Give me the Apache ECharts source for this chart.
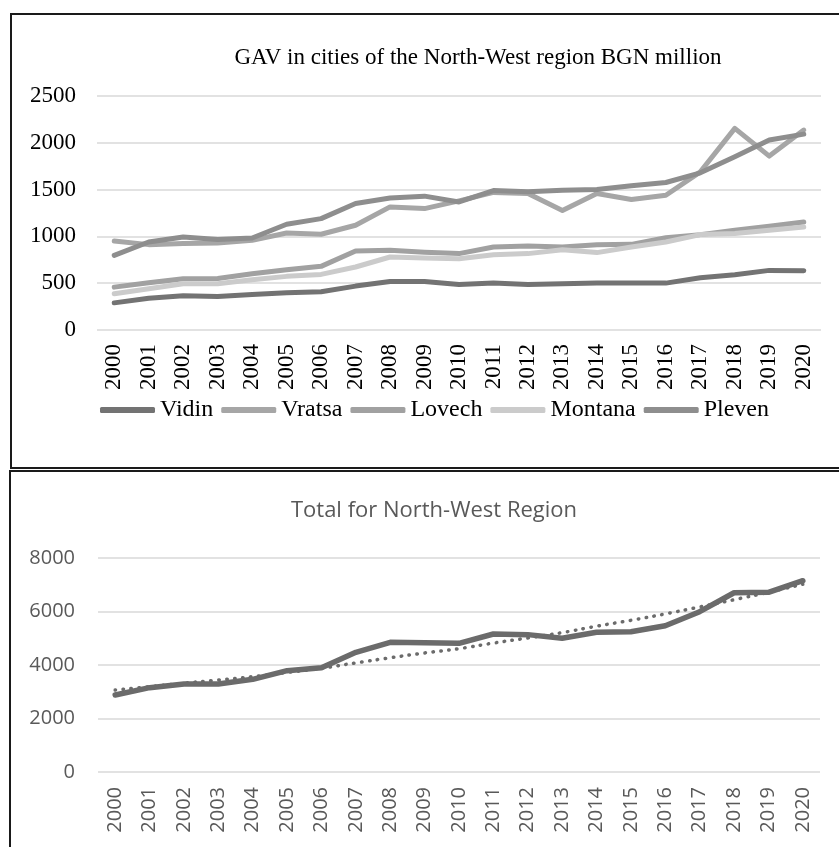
<!DOCTYPE html>
<html>
<head>
<meta charset="utf-8">
<title>GAV North-West region</title>
<script src="https://cdn.jsdelivr.net/npm/echarts@6/dist/echarts.min.js"></script>
<style>
    html, body {
        margin: 0;
        padding: 0;
        background: #fff;
        overflow: hidden;
    }
    .box {
        position: absolute;
        border: 2px solid #1a1a1a;
        border-right: none;
    }
    #chart {
        position: absolute;
        left: 0;
        top: 0;
        width: 839px;
        height: 847px;
    }
</style>
</head>
<body>
<div class="box" style="left: 10px; top: 13px; width: 900px; height: 452px;"></div>
<div class="box" style="left: 9px; top: 470px; width: 900px; height: 500px;"></div>
<div id="chart"></div>

<script>
// values in BGN million
var years = ['2000', '2001', '2002', '2003', '2004', '2005', '2006', '2007', '2008', '2009', '2010',
    '2011', '2012', '2013', '2014', '2015', '2016', '2017', '2018', '2019', '2020'];

var vidin = [290, 340, 366, 359, 380, 398, 409, 469, 519, 519, 487, 501, 487, 494, 501, 501, 501, 559, 591, 637, 634];
var vratsa = [950, 912, 923, 929, 958, 1037, 1023, 1119, 1315, 1297, 1380, 1470, 1458, 1278, 1458, 1394, 1440, 1690, 2154, 1858, 2136];
var lovech = [458, 505, 548, 551, 601, 644, 680, 844, 851, 830, 816, 887, 897, 887, 912, 915, 987, 1019, 1065, 1108, 1154];
var montana = [387, 441, 495, 495, 537, 573, 594, 673, 780, 769, 762, 805, 816, 858, 827, 887, 940, 1019, 1030, 1065, 1101];
var pleven = [798, 940, 994, 966, 983, 1130, 1190, 1351, 1411, 1430, 1368, 1490, 1476, 1494, 1501, 1540, 1576, 1679, 1850, 2029, 2093];

var total = [2878, 3152, 3290, 3290, 3465, 3787, 3900, 4474, 4848, 4830, 4810, 5158, 5135, 4998, 5222, 5246, 5470, 5993, 6702, 6717, 7151];
// dotted trend line of the total
var trend = [3065, 3190, 3320, 3440, 3565, 3720, 3880, 4080, 4270, 4450, 4610, 4820, 5010, 5210, 5450, 5670, 5910, 6170, 6440, 6720, 7020];

var serif = '"Liberation Serif", "DejaVu Serif", serif';
var sans = '"Open Sans", "Noto Sans", sans-serif';

var cities = [
    { name: 'Vidin', data: vidin, color: '#737373' },
    { name: 'Vratsa', data: vratsa, color: '#a6a6a6' },
    { name: 'Lovech', data: lovech, color: '#a1a1a1' },
    { name: 'Montana', data: montana, color: '#cbcbcb' },
    { name: 'Pleven', data: pleven, color: '#8e8e8e' }
];

var chart = echarts.init(document.getElementById('chart'));

var plain = function (v) { return String(v); };

var citySeries = cities.map(function (c) {
    return {
        name: c.name,
        type: 'line',
        xAxisIndex: 0,
        yAxisIndex: 0,
        data: c.data,
        symbol: 'none',
        color: c.color,
        lineStyle: { color: c.color, width: 5, cap: 'round', join: 'round' }
    };
});

chart.setOption({
    animation: false,
    title: [
        {
            text: 'GAV in cities of the North-West region BGN million',
            left: 473,
            top: 41,
            textAlign: 'center',
            textStyle: { fontFamily: serif, fontSize: 23, fontWeight: 'normal', color: '#000' }
        },
        {
            text: 'Total for North-West Region',
            left: 429,
            top: 495,
            textAlign: 'center',
            textStyle: { fontFamily: sans, fontSize: 22, fontWeight: 'normal', color: '#595959' }
        }
    ],
    legend: {
        data: cities.map(function (c) { return c.name; }),
        left: 95,
        top: 393,
        icon: 'roundRect',
        itemWidth: 55,
        itemHeight: 6,
        itemGap: 8,
        textStyle: { fontFamily: serif, fontSize: 24, color: '#000' }
    },
    grid: [
        { left: 97, right: 18, top: 96, height: 234 },
        { left: 98, right: 19, top: 558, height: 214 }
    ],
    xAxis: [
        {
            gridIndex: 0,
            type: 'category',
            data: years,
            axisLine: { show: false },
            axisTick: { show: false },
            axisLabel: { rotate: 90, margin: 14, fontFamily: serif, fontSize: 23, color: '#000' }
        },
        {
            gridIndex: 1,
            type: 'category',
            data: years,
            axisLine: { show: false },
            axisTick: { show: false },
            axisLabel: { rotate: 90, margin: 15, fontFamily: sans, fontSize: 20, color: '#595959' }
        }
    ],
    yAxis: [
        {
            gridIndex: 0,
            type: 'value',
            min: 0,
            max: 2500,
            interval: 500,
            axisLabel: { margin: 21, fontFamily: serif, fontSize: 23, color: '#000', formatter: plain },
            splitLine: { lineStyle: { color: '#d9d9d9', width: 1.5 } }
        },
        {
            gridIndex: 1,
            type: 'value',
            min: 0,
            max: 8000,
            interval: 2000,
            axisLabel: { margin: 23, fontFamily: sans, fontSize: 20, color: '#595959', formatter: plain },
            splitLine: { lineStyle: { color: '#d9d9d9', width: 1.5 } }
        }
    ],
    series: citySeries.concat([
        {
            name: 'Trend',
            type: 'line',
            xAxisIndex: 1,
            yAxisIndex: 1,
            data: trend,
            symbol: 'none',
            smooth: true,
            z: 2,
            lineStyle: { color: '#6b6b6b', width: 3.5, type: [0.5, 7.5], cap: 'round' }
        },
        {
            name: 'Total',
            type: 'line',
            xAxisIndex: 1,
            yAxisIndex: 1,
            data: total,
            symbol: 'none',
            z: 3,
            lineStyle: { color: '#6b6b6b', width: 5.5, cap: 'round', join: 'round' }
        }
    ])
});
</script>
</body>
</html>
